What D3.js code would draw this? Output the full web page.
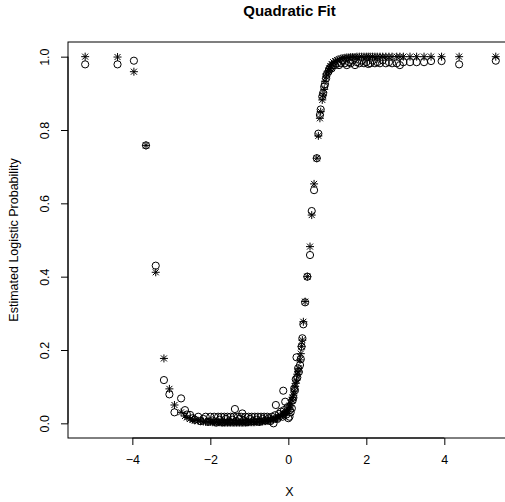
<!DOCTYPE html>
<html>
<head>
<meta charset="utf-8">
<script src="https://cdn.jsdelivr.net/npm/d3@7"></script>
<style>
  html, body { margin: 0; padding: 0; background: #fff; }
  svg { display: block; font-family: "Liberation Sans", Arial, Helvetica, sans-serif; }
</style>
</head>
<body>
<svg id="chart" width="505" height="502"></svg>
<script>
// ---- data ----
const title = "Quadratic Fit";
const xLabel = "X";
const yLabel = "Estimated Logistic Probability";
const xTicks = [-4, -2, 0, 2, 4];
const yTicks = [0, 0.2, 0.4, 0.6, 0.8, 1.0];

const xValues = [
  -5.21, -4.38, -3.96, -3.65, -3.40, -3.19, -3.05, -2.92, -2.75, -2.65,
  -2.60, -2.52, -2.45, -2.40, -2.31, -2.25, -2.18, -2.12, -2.06, -2.00,
  -1.95, -1.90, -1.85, -1.80, -1.76, -1.72, -1.68, -1.64, -1.60, -1.56,
  -1.52, -1.48, -1.44, -1.40, -1.37, -1.33, -1.29, -1.25, -1.21, -1.18,
  -1.14, -1.10, -1.06, -1.02, -0.98, -0.94, -0.90, -0.86, -0.82, -0.78,
  -0.74, -0.70, -0.66, -0.62, -0.58, -0.54, -0.50, -0.46, -0.42, -0.38,
  -0.34, -0.32, -0.28, -0.24, -0.19, -0.15, -0.13, -0.11, -0.08, -0.05,
  -0.02, 0.00, 0.03, 0.04, 0.06, 0.09, 0.11, 0.13, 0.15, 0.17,
  0.19, 0.21, 0.23, 0.25, 0.27, 0.30, 0.32, 0.34, 0.36, 0.385,
  0.43, 0.487, 0.556, 0.60, 0.66, 0.73, 0.77, 0.81, 0.83, 0.87,
  0.89, 0.92, 0.94, 0.97, 0.98, 1.03, 1.05, 1.08, 1.11, 1.15,
  1.20, 1.25, 1.30, 1.35, 1.40, 1.45, 1.50, 1.55, 1.60, 1.65,
  1.71, 1.76, 1.82, 1.88, 1.94, 2.00, 2.05, 2.10, 2.16, 2.22,
  2.28, 2.35, 2.42, 2.50, 2.58, 2.66, 2.78, 2.86, 2.95, 3.12,
  3.29, 3.48, 3.66, 3.93, 4.38, 5.32
];

// fitted probabilities (asterisks)
const fittedValues = [
  1.000, 0.999, 0.959, 0.758, 0.412, 0.177, 0.094, 0.050, 0.030, 0.020,
  0.016, 0.012, 0.010, 0.008, 0.007, 0.006, 0.005, 0.004, 0.004, 0.004,
  0.003, 0.003, 0.003, 0.003, 0.003, 0.002, 0.002, 0.002, 0.002, 0.002,
  0.002, 0.002, 0.002, 0.002, 0.002, 0.002, 0.002, 0.002, 0.002, 0.002,
  0.002, 0.002, 0.002, 0.003, 0.003, 0.003, 0.003, 0.003, 0.004, 0.004,
  0.004, 0.005, 0.005, 0.006, 0.006, 0.007, 0.008, 0.009, 0.010, 0.011,
  0.012, 0.013, 0.015, 0.017, 0.020, 0.023, 0.025, 0.026, 0.028, 0.031,
  0.034, 0.037, 0.045, 0.048, 0.055, 0.064, 0.070, 0.077, 0.088, 0.100,
  0.109, 0.118, 0.134, 0.140, 0.150, 0.173, 0.190, 0.210, 0.227, 0.277,
  0.332, 0.400, 0.482, 0.568, 0.653, 0.723, 0.784, 0.832, 0.850, 0.882,
  0.895, 0.911, 0.933, 0.945, 0.953, 0.962, 0.968, 0.974, 0.980, 0.985,
  0.988, 0.991, 0.993, 0.995, 0.996, 0.997, 0.998, 0.998, 0.999, 0.999,
  0.999, 1.000, 1.000, 1.000, 1.000, 1.000, 1.000, 1.000, 1.000, 1.000,
  1.000, 1.000, 1.000, 1.000, 1.000, 1.000, 1.000, 1.000, 1.000, 1.000,
  1.000, 1.000, 1.000, 1.000, 1.000, 1.000
];

// estimated probabilities (open circles)
const estimatedValues = [
  0.979, 0.979, 0.989, 0.758, 0.430, 0.118, 0.079, 0.030, 0.068, 0.036,
  0.024, 0.023, 0.014, 0.010, 0.018, 0.006, 0.012, 0.018, 0.004, 0.018,
  0.008, 0.018, 0.002, 0.018, 0.010, 0.018, 0.003, 0.018, 0.012, 0.018,
  0.005, 0.018, 0.010, 0.018, 0.039, 0.006, 0.018, 0.012, 0.018, 0.027,
  0.008, 0.018, 0.004, 0.018, 0.012, 0.018, 0.006, 0.018, 0.010, 0.018,
  0.004, 0.018, 0.012, 0.018, 0.008, 0.018, 0.014, 0.006, 0.018, 0.000,
  0.022, 0.050, 0.012, 0.026, 0.032, 0.018, 0.089, 0.036, 0.059, 0.024,
  0.044, 0.014, 0.018, 0.036, 0.030, 0.041, 0.062, 0.070, 0.095, 0.090,
  0.120, 0.180, 0.125, 0.150, 0.140, 0.159, 0.175, 0.209, 0.232, 0.270,
  0.330, 0.400, 0.459, 0.579, 0.636, 0.723, 0.790, 0.841, 0.856, 0.891,
  0.900, 0.918, 0.925, 0.941, 0.950, 0.959, 0.965, 0.970, 0.968, 0.977,
  0.977, 0.982, 0.977, 0.982, 0.990, 0.982, 0.977, 0.985, 0.982, 0.990,
  0.977, 0.985, 0.982, 0.990, 0.982, 0.985, 0.980, 0.982, 0.990, 0.982,
  0.985, 0.982, 0.990, 0.982, 0.985, 0.982, 0.982, 0.977, 0.985, 0.985,
  0.985, 0.985, 0.988, 0.988, 0.979, 0.989
];

// ---- layout ----
const svg = d3.select("#chart");
const plot = { left: 68, right: 511, top: 42, bottom: 438 };

const x = d3.scaleLinear().domain([-5.65, 5.71]).range([plot.left, plot.right]);
const y = d3.scaleLinear().domain([-0.04, 1.04]).range([plot.bottom, plot.top]);

const points = xValues.map((xv, i) => ({ x: xv, fit: fittedValues[i], est: estimatedValues[i] }));

// box
svg.append("rect")
  .attr("x", plot.left).attr("y", plot.top)
  .attr("width", plot.right - plot.left).attr("height", plot.bottom - plot.top)
  .attr("fill", "none").attr("stroke", "#000").attr("stroke-width", 1);

// x axis
const fmtX = d => (d < 0 ? "\u2212" + Math.abs(d) : String(d));
const gx = svg.append("g")
  .attr("transform", `translate(0,${plot.bottom})`)
  .call(d3.axisBottom(x).tickValues(xTicks).tickFormat(fmtX).tickSize(7).tickPadding(10).tickSizeOuter(0));
gx.select(".domain")
  .attr("d", `M${x(xTicks[0])},0H${x(xTicks[xTicks.length - 1])}`);
gx.selectAll("text").attr("font-size", 12.5).attr("fill", "#000")
  .attr("font-family", "Liberation Sans, Arial, sans-serif");

// y axis
const gy = svg.append("g")
  .attr("transform", `translate(${plot.left},0)`)
  .call(d3.axisLeft(y).tickValues(yTicks).tickFormat(d3.format(".1f")).tickSize(7).tickSizeOuter(0));
gy.select(".domain")
  .attr("d", `M0,${y(yTicks[0])}V${y(yTicks[yTicks.length - 1])}`);
gy.selectAll(".tick text")
  .attr("font-size", 12.5).attr("fill", "#000")
  .attr("font-family", "Liberation Sans, Arial, sans-serif")
  .attr("x", 0).attr("y", -19).attr("dy", null)
  .attr("text-anchor", "middle")
  .attr("transform", "rotate(-90)");

// labels
svg.append("text")
  .attr("x", (plot.left + plot.right) / 2).attr("y", 16)
  .attr("text-anchor", "middle").attr("font-size", 15).attr("font-weight", "bold")
  .text(title);
svg.append("text")
  .attr("x", (plot.left + plot.right) / 2).attr("y", 496)
  .attr("text-anchor", "middle").attr("font-size", 12.5)
  .text(xLabel);
svg.append("text")
  .attr("transform", `translate(18,${(plot.top + plot.bottom) / 2}) rotate(-90)`)
  .attr("text-anchor", "middle").attr("font-size", 12.5)
  .text(yLabel);

// open circles
svg.append("g").selectAll("circle")
  .data(points).join("circle")
  .attr("cx", d => x(d.x)).attr("cy", d => y(d.est))
  .attr("r", 3.6)
  .attr("fill", "none").attr("stroke", "#000").attr("stroke-width", 1);

// asterisks
const star = "M-4,0H4M0,-4V4M-3,-3L3,3M-3,3L3,-3";
svg.append("g").selectAll("path")
  .data(points).join("path")
  .attr("transform", d => `translate(${x(d.x)},${y(d.fit)})`)
  .attr("d", star)
  .attr("fill", "none").attr("stroke", "#000").attr("stroke-width", 1);
</script>
</body>
</html>
